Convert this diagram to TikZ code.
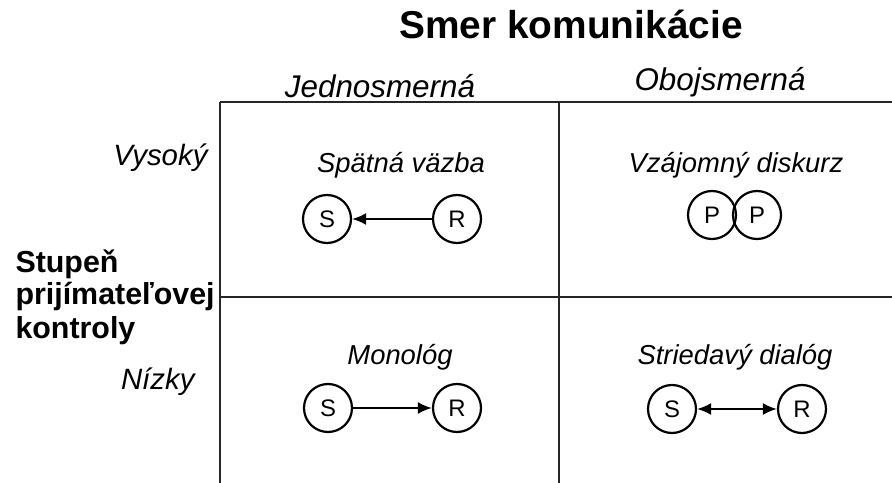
\documentclass[tikz,border=0pt]{standalone}
\usepackage{fontspec}
\setmainfont{Liberation Sans}
\usetikzlibrary{arrows.meta}
\begin{document}
\begin{tikzpicture}[x=1bp,y=-1bp,
  gridline/.style={line width=2.2bp, black!85},
  party/.style={circle, draw, line width=2.2bp, minimum size=48bp, inner sep=0pt,
    font=\fontsize{24}{27}\selectfont},
  flow/.style={line width=2bp, -{Latex[length=14bp,width=12bp]}},
  bothflow/.style={line width=2bp, {Latex[length=14bp,width=12bp]}-{Latex[length=14bp,width=12bp]}},
  title/.style={anchor=base, font=\fontsize{39}{44}\selectfont\bfseries},
  colhead/.style={anchor=base, font=\fontsize{31.5}{36}\selectfont\itshape},
  rowhead/.style={anchor=base east, font=\fontsize{29.5}{34}\selectfont\itshape},
  celltitle/.style={anchor=base, font=\fontsize{27.5}{32}\selectfont\itshape},
  axis/.style={anchor=base west, font=\fontsize{30.5}{33}\selectfont\bfseries}
]
\useasboundingbox (0,0) rectangle (892,483);

% table frame
\draw[gridline] (220,102) -- (892,102);
\draw[gridline] (220,297) -- (892,297);
\draw[gridline] (220,102) -- (220,483);
\draw[gridline] (559,102) -- (559,483);

% headings
\node[title] (ttl) at (571,39) {Smer komunikácie};
\node[colhead] (c1) at (380,98) {Jednosmerná};
\node[colhead] (c2) at (720,91) {Obojsmerná};
\node[rowhead] (r1) at (211,166) {Vysoký};
\node[rowhead] (r2) at (198,389) {Nízky};
\node[axis] (ax1) at (12,273) {Stupeň};
\node[axis] (ax2) at (12,305) {prijímateľovej};
\node[axis] (ax3) at (12,339) {kontroly};

% cell: feedback
\node[celltitle] (t1) at (401,173) {Spätná väzba};
\node[party] (s1) at (327,219) {S};
\node[party] (rc1) at (457,219) {R};
\draw[flow] (rc1) -- (s1);

% cell: mutual discourse
\node[celltitle] (t2) at (736,173) {Vzájomný diskurz};
\node[party] (p1) at (712,215) {P};
\node[party] (p2) at (757,215) {P};

% cell: monologue
\node[celltitle] (t3) at (400,364) {Monológ};
\node[party] (s3) at (328,408) {S};
\node[party] (rc3) at (457,408) {R};
\draw[flow] (s3) -- (rc3);

% cell: alternating dialogue
\node[celltitle] (t4) at (735,364) {Striedavý dialóg};
\node[party] (s4) at (672,409) {S};
\node[party] (rc4) at (802,409) {R};
\draw[bothflow] (s4) -- (rc4);
\end{tikzpicture}
\end{document}
